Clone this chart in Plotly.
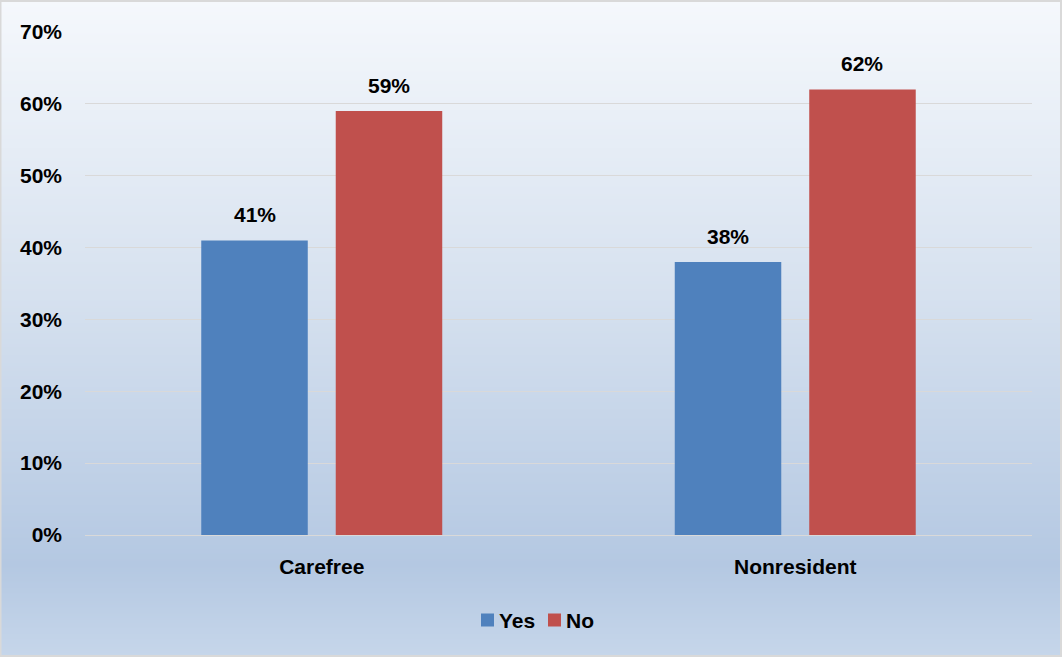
import base64, struct, zlib
import plotly.graph_objects as go

categories = ["Carefree", "Nonresident"]
series_names = ["Yes", "No"]
series_colors = ["#4f81bd", "#c0504d"]
yes_vals = [41, 38]
no_vals = [59, 62]
tick_vals = [0, 10, 20, 30, 40, 50, 60, 70]
tick_text = ["0%", "10%", "20%", "30%", "40%", "50%", "60%", "70%"]

W, H = 1062, 657
L, R, T, B = 85, 30, 32, 122

def lerp(a, b, t):
    return tuple(int(round(a[i] + (b[i] - a[i]) * t)) for i in range(3))

stops = [(0.0, (245, 248, 252)), (0.45, (214, 225, 239)), (0.86, (180, 200, 226)), (1.0, (198, 214, 234))]
rows = b""
for y in range(H):
    f = y / (H - 1)
    for i in range(len(stops) - 1):
        if stops[i][0] <= f <= stops[i + 1][0]:
            t = (f - stops[i][0]) / (stops[i + 1][0] - stops[i][0])
            c = lerp(stops[i][1], stops[i + 1][1], t)
            break
    rows += b"\x00" + bytes(c) * 4

def chunk(tag, data):
    return struct.pack(">I", len(data)) + tag + data + struct.pack(">I", zlib.crc32(tag + data) & 0xffffffff)

png = b"\x89PNG\r\n\x1a\n" + chunk(b"IHDR", struct.pack(">IIBBBBB", 4, H, 8, 2, 0, 0, 0)) + \
      chunk(b"IDAT", zlib.compress(rows)) + chunk(b"IEND", b"")
uri = "data:image/png;base64," + base64.b64encode(png).decode()

pw, ph = W - L - R, H - T - B
font = "Liberation Sans"
FS = 21
bfont = dict(family=font, size=FS, color="black", weight="bold")

def px_x(p):
    return (p - L) / pw

def px_y(p):
    return (H - B - p) / ph

fig = go.Figure()
fig.add_trace(go.Bar(name=series_names[0], x=categories, y=yes_vals,
                     marker=dict(color=series_colors[0], line=dict(width=0))))
fig.add_trace(go.Bar(name=series_names[1], x=categories, y=no_vals,
                     marker=dict(color=series_colors[1], line=dict(width=0))))

annotations = []
for cat, yv, nv in zip(categories, yes_vals, no_vals):
    annotations.append(dict(x=cat, y=yv, text=f"{yv}%", showarrow=False, xshift=-67, yshift=12,
                            yanchor="bottom", font=bfont))
    annotations.append(dict(x=cat, y=nv, text=f"{nv}%", showarrow=False, xshift=67, yshift=12,
                            yanchor="bottom", font=bfont))

# custom legend (square + label)
shapes = [dict(type="rect", xref="paper", yref="paper", x0=-L / pw + 0.5 / pw, x1=1 + (R - 1) / pw,
               y0=-B / ph + 1 / ph, y1=1 + (T - 1) / ph, line=dict(color="#d9d9d9", width=2))]
leg_sq_x = [481, 548]
leg_cy = 620
for sx, name, col in zip(leg_sq_x, series_names, series_colors):
    shapes.append(dict(type="rect", xref="paper", yref="paper", x0=px_x(sx), x1=px_x(sx + 13),
                       y0=px_y(leg_cy + 6.5), y1=px_y(leg_cy - 6.5), fillcolor=col, line=dict(width=0)))
    annotations.append(dict(xref="paper", yref="paper", x=px_x(sx + 16), y=px_y(leg_cy), text=name,
                            showarrow=False, xanchor="left", yanchor="middle", font=bfont))

fig.update_layout(
    width=W, height=H,
    margin=dict(l=L, r=R, t=T, b=B, autoexpand=False),
    paper_bgcolor="#c6d6ea", plot_bgcolor="rgba(0,0,0,0)",
    barmode="group", bargap=0.432, bargroupgap=0.208,
    font=bfont,
    showlegend=False,
    annotations=annotations,
    images=[dict(source=uri, xref="paper", yref="paper", x=-L / pw, y=1 + T / ph,
                 sizex=W / pw, sizey=H / ph, xanchor="left", yanchor="top",
                 sizing="stretch", layer="below")],
    shapes=shapes,
)
fig.update_xaxes(showgrid=False, showline=True, linecolor="#d9d9d9", linewidth=1, ticks="",
                 tickfont=bfont, ticklabelstandoff=13)
fig.update_yaxes(range=[0, 70], tickvals=tick_vals, ticktext=tick_text, showgrid=True,
                 gridcolor="#d9d9d9", gridwidth=1, zeroline=False, showline=False, ticks="",
                 tickfont=bfont, ticklabelstandoff=22)

fig.write_html("out.html")
